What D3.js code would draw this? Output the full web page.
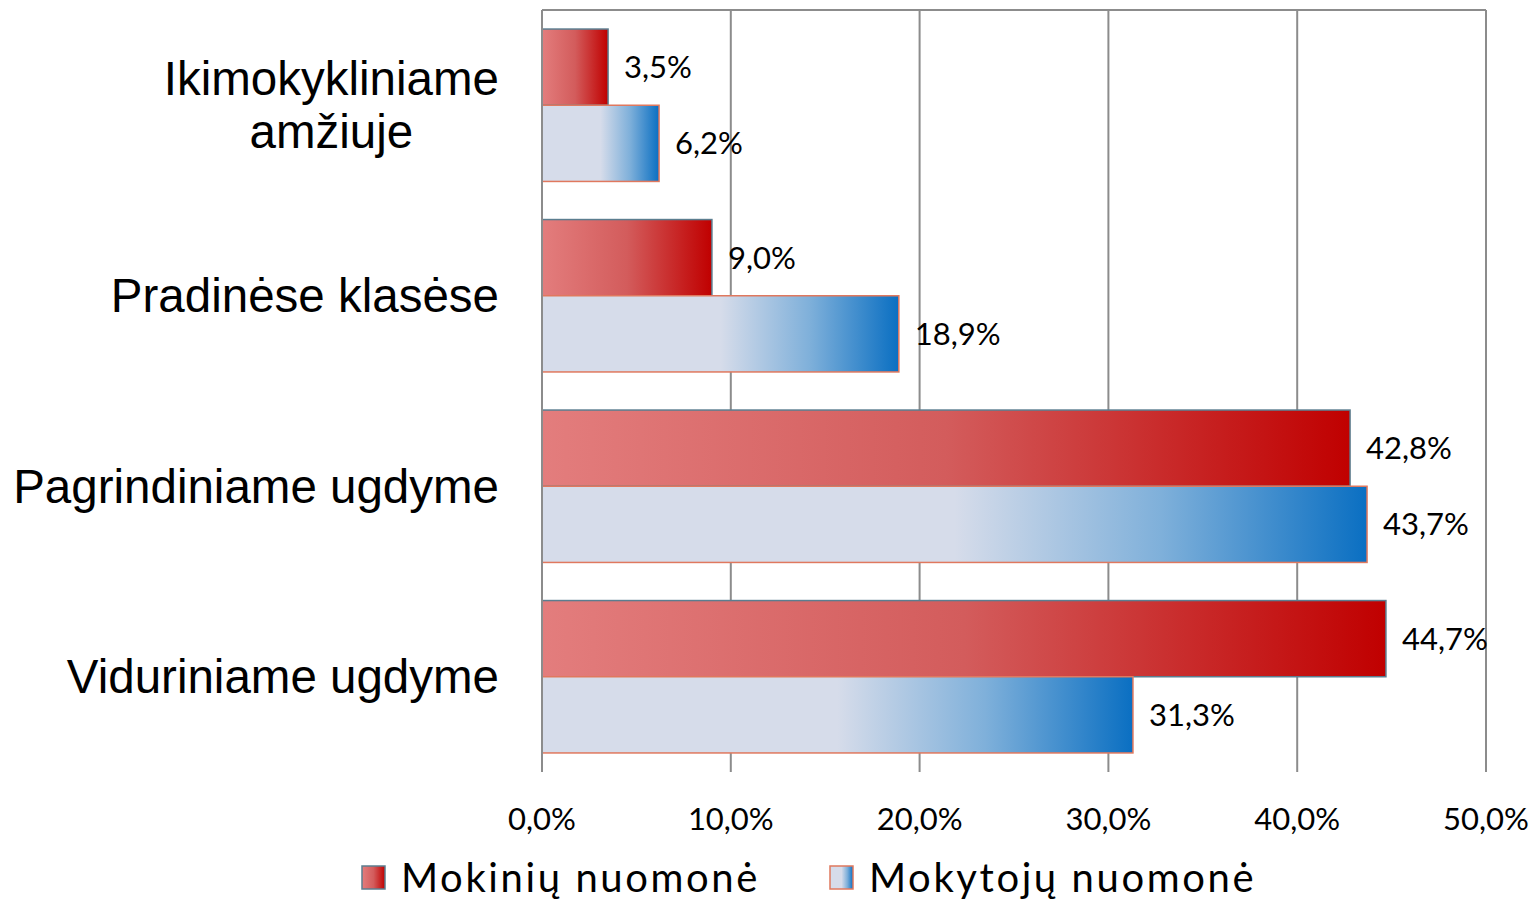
<!DOCTYPE html>
<html>
<head>
<meta charset="utf-8">
<script src="https://cdn.jsdelivr.net/npm/d3@7"></script>
<style>
  body { margin: 0; background: #fff; }
  svg { display: block; }
  .cat { font-family: Arial, "Liberation Sans", Helvetica, sans-serif; }
  .num { font-family: Lato, "Open Sans", sans-serif; }
</style>
</head>
<body>
<div id="chart"></div>
<script>
// Chart data
const categories = ['Ikimokykliniame amžiuje', 'Pradinėse klasėse', 'Pagrindiniame ugdyme', 'Viduriniame ugdyme'];
const categoryLines = [['Ikimokykliniame', 'amžiuje'], ['Pradinėse klasėse'], ['Pagrindiniame ugdyme'], ['Viduriniame ugdyme']];
const seriesNames = ['Mokinių nuomonė', 'Mokytojų nuomonė'];
const studentValues = [3.5, 9.0, 42.8, 44.7];
const teacherValues = [6.2, 18.9, 43.7, 31.3];
const xTicks = [0, 10, 20, 30, 40, 50];

const width = 1539;
const height = 904;
const plot = { left: 542, right: 1486, top: 10, bottom: 772 };

const fmt = v => v.toFixed(1).replace('.', ',') + '%';

const svg = d3.select('#chart')
    .append('svg')
    .attr('width', width)
    .attr('height', height);

// Gradients for the two series
const defs = svg.append('defs');
const redGrad = defs.append('linearGradient').attr('id', 'gradRed');
redGrad.append('stop').attr('offset', '0%').attr('stop-color', '#e37d7d');
redGrad.append('stop').attr('offset', '50%').attr('stop-color', '#d35c5c');
redGrad.append('stop').attr('offset', '100%').attr('stop-color', '#c00000');
const blueGrad = defs.append('linearGradient').attr('id', 'gradBlue');
blueGrad.append('stop').attr('offset', '0%').attr('stop-color', '#d6dcea');
blueGrad.append('stop').attr('offset', '50%').attr('stop-color', '#d6dcea');
blueGrad.append('stop').attr('offset', '75%').attr('stop-color', '#7fb0da');
blueGrad.append('stop').attr('offset', '100%').attr('stop-color', '#0a6fc2');

const series = [
    { name: seriesNames[0], values: studentValues, fill: 'url(#gradRed)', stroke: '#5b7d8f' },
    { name: seriesNames[1], values: teacherValues, fill: 'url(#gradBlue)', stroke: '#e0785e' }
];

// Scales
const xScale = d3.scaleLinear().domain([0, 50]).range([plot.left, plot.right]);
const yScale = d3.scaleBand()
    .domain(categories)
    .range([plot.top, plot.bottom])
    .paddingInner(0.2)
    .paddingOuter(0.1);
const ySub = d3.scaleBand()
    .domain(seriesNames)
    .range([0, yScale.bandwidth()]);

// Gridlines
svg.append('g')
    .selectAll('line')
    .data(xTicks)
    .join('line')
    .attr('x1', d => xScale(d))
    .attr('x2', d => xScale(d))
    .attr('y1', plot.top)
    .attr('y2', plot.bottom)
    .attr('stroke', '#8c8c8c')
    .attr('stroke-width', 2);

// Top border of plot area
svg.append('line')
    .attr('x1', plot.left)
    .attr('x2', plot.right)
    .attr('y1', plot.top)
    .attr('y2', plot.top)
    .attr('stroke', '#8c8c8c')
    .attr('stroke-width', 2);

// Bars
series.forEach(s => {
    const g = svg.append('g');
    g.selectAll('rect')
        .data(categories)
        .join('rect')
        .attr('x', xScale(0))
        .attr('y', (c, i) => yScale(c) + ySub(s.name))
        .attr('width', (c, i) => xScale(s.values[i]) - xScale(0))
        .attr('height', ySub.bandwidth())
        .attr('fill', s.fill)
        .attr('stroke', s.stroke)
        .attr('stroke-width', 1.5);

    g.selectAll('text')
        .data(categories)
        .join('text')
        .attr('class', 'num')
        .attr('x', (c, i) => xScale(s.values[i]) + 16)
        .attr('y', (c, i) => yScale(c) + ySub(s.name) + ySub.bandwidth() / 2)
        .attr('dy', '0.35em')
        .attr('font-size', 31)
        .attr('fill', '#000')
        .text((c, i) => fmt(s.values[i]));
});

// Left axis line
svg.append('line')
    .attr('x1', plot.left)
    .attr('x2', plot.left)
    .attr('y1', plot.top)
    .attr('y2', plot.bottom)
    .attr('stroke', '#8c8c8c')
    .attr('stroke-width', 2);

// Category labels (multi-line labels are centred on each other, right edge at 499)
const catG = svg.append('g');
categories.forEach((c, i) => {
    const lines = categoryLines[i];
    const cy = yScale(c) + yScale.bandwidth() / 2;
    const lh = 53;
    const grp = catG.append('g');
    const texts = lines.map((l, j) => grp.append('text')
        .attr('class', 'cat')
        .attr('y', cy + (j - (lines.length - 1) / 2) * lh)
        .attr('dy', '0.35em')
        .attr('text-anchor', 'middle')
        .attr('font-size', 47.5)
        .attr('fill', '#000')
        .text(l));
    const maxW = d3.max(texts, t => t.node().getComputedTextLength());
    texts.forEach(t => t.attr('x', 499 - maxW / 2));
});

// X tick labels
svg.append('g')
    .selectAll('text')
    .data(xTicks)
    .join('text')
    .attr('class', 'num')
    .attr('x', d => xScale(d))
    .attr('y', 830)
    .attr('text-anchor', 'middle')
    .attr('font-size', 31)
    .attr('fill', '#000')
    .text(d => fmt(d));

// Legend
const legendX = [362, 830];
series.forEach((s, i) => {
    const lg = svg.append('g').attr('transform', `translate(${legendX[i]}, 866)`);
    lg.append('rect')
        .attr('width', 23)
        .attr('height', 23)
        .attr('fill', s.fill)
        .attr('stroke', s.stroke)
        .attr('stroke-width', 1.5);
    lg.append('text')
        .attr('class', 'num')
        .attr('x', 39)
        .attr('y', 12)
        .attr('dy', '0.35em')
        .attr('font-size', 40)
        .attr('letter-spacing', 2.6)
        .attr('fill', '#000')
        .text(s.name);
});
</script>
</body>
</html>
